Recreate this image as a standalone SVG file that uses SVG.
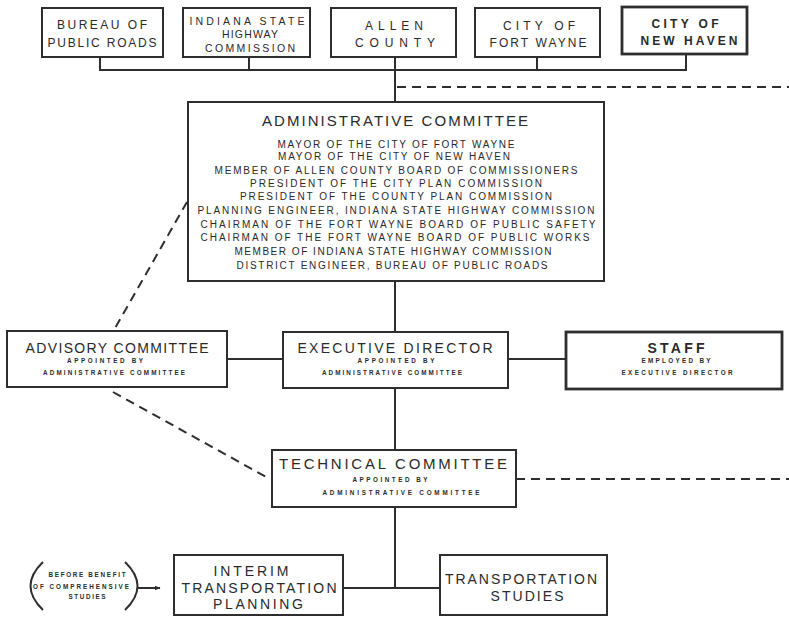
<svg xmlns="http://www.w3.org/2000/svg" width="789" height="619" viewBox="0 0 789 619">
<defs>
<style>
text{font-family:"Liberation Sans",Arial,sans-serif;fill:#2a2a2a;text-anchor:middle}
.box{fill:#fff;stroke:#2e2e2e;stroke-width:2}
.thick{stroke-width:2.8}
.ln{fill:none;stroke:#2e2e2e;stroke-width:2}
.dash{fill:none;stroke:#2e2e2e;stroke-width:2;stroke-dasharray:9 6}
.t12{font-size:12px}
.t11{font-size:10.5px}
.t15{font-size:15px}
.t14{font-size:14px}
.t10{font-size:10px}
.s6{font-size:6.3px;font-weight:bold}
.b{font-weight:bold}
</style>
<marker id="ah" viewBox="0 0 10 10" refX="9" refY="5" markerWidth="6" markerHeight="6" orient="auto" markerUnits="userSpaceOnUse">
<path d="M0,1 L10,5 L0,9 z" fill="#2e2e2e"/>
</marker>
</defs>
<rect width="789" height="619" fill="#fff"/>

<g id="connectors">
<path class="ln" d="M100,57 V70 H686 V54 M249,57 V70 M537,57 V70 M395,57 V102"/>
<path class="ln" d="M395,281 V332 M227,359 H283 M508,359 H566 M395,388 V450 M395,507 V588 M343,588 H440"/>
<path class="dash" d="M397,87 H789"/>
<path class="dash" d="M187,202 L114,330"/>
<path class="dash" d="M113,392 L268,478"/>
<path class="dash" d="M516,479 H789"/>
<path class="ln" d="M43,562 Q18,586 43,610 M125,562 Q150,586 125,610"/>
<path class="ln" d="M137,588 H160" marker-end="url(#ah)"/>
</g>

<g id="bureau">
<rect class="box" x="42" y="8" width="121" height="49"/>
<text class="t12" x="102" y="29" textLength="90" lengthAdjust="spacing">BUREAU OF</text>
<text class="t12" x="102" y="47" textLength="109" lengthAdjust="spacing">PUBLIC ROADS</text>
</g>
<g id="indiana">
<rect class="box" x="183" y="8" width="127" height="49"/>
<text class="t11" x="247" y="25" textLength="115" lengthAdjust="spacing">INDIANA STATE</text>
<text class="t11" x="250" y="37.5" textLength="56" lengthAdjust="spacing">HIGHWAY</text>
<text class="t11" x="250" y="51.5" textLength="90" lengthAdjust="spacing">COMMISSION</text>
</g>
<g id="allen">
<rect class="box" x="331" y="8" width="125" height="49"/>
<text class="t12" x="394" y="29.5" textLength="58" lengthAdjust="spacing">ALLEN</text>
<text class="t12" x="395" y="47" textLength="80" lengthAdjust="spacing">COUNTY</text>
</g>
<g id="fortwayne">
<rect class="box" x="475" y="8" width="125" height="49"/>
<text class="t12" x="539" y="30" textLength="72" lengthAdjust="spacing">CITY OF</text>
<text class="t12" x="538" y="46.5" textLength="97" lengthAdjust="spacing">FORT WAYNE</text>
</g>
<g id="newhaven">
<rect class="box thick" x="622" y="7" width="125" height="47"/>
<text class="t12 b" x="685" y="28" textLength="67" lengthAdjust="spacing">CITY OF</text>
<text class="t12 b" x="689" y="44.5" textLength="97" lengthAdjust="spacing">NEW HAVEN</text>
</g>

<g id="admin">
<rect class="box" x="188" y="102" width="416" height="179"/>
<text class="t15" x="395" y="125.5" textLength="266" lengthAdjust="spacing">ADMINISTRATIVE COMMITTEE</text>
<text class="t10" x="396" y="147.5" textLength="237" lengthAdjust="spacing">MAYOR OF THE CITY OF FORT WAYNE</text>
<text class="t10" x="394" y="160" textLength="232" lengthAdjust="spacing">MAYOR OF THE CITY OF NEW HAVEN</text>
<text class="t10" x="396" y="174" textLength="363" lengthAdjust="spacing">MEMBER OF ALLEN COUNTY BOARD OF COMMISSIONERS</text>
<text class="t10" x="396" y="187" textLength="292" lengthAdjust="spacing">PRESIDENT OF THE CITY PLAN COMMISSION</text>
<text class="t10" x="396" y="199.5" textLength="312" lengthAdjust="spacing">PRESIDENT OF THE COUNTY PLAN COMMISSION</text>
<text class="t10" x="396" y="214" textLength="397" lengthAdjust="spacing">PLANNING ENGINEER, INDIANA STATE HIGHWAY COMMISSION</text>
<text class="t10" x="398" y="227.5" textLength="395" lengthAdjust="spacing">CHAIRMAN OF THE FORT WAYNE BOARD OF PUBLIC SAFETY</text>
<text class="t10" x="395" y="240.5" textLength="389" lengthAdjust="spacing">CHAIRMAN OF THE FORT WAYNE BOARD OF PUBLIC WORKS</text>
<text class="t10" x="393" y="254.5" textLength="317" lengthAdjust="spacing">MEMBER OF INDIANA STATE HIGHWAY COMMISSION</text>
<text class="t10" x="392" y="268.5" textLength="311" lengthAdjust="spacing">DISTRICT ENGINEER, BUREAU OF PUBLIC ROADS</text>
</g>

<g id="advisory">
<rect class="box" x="7" y="331" width="220" height="56"/>
<text class="t14" x="117" y="353" textLength="183" lengthAdjust="spacing">ADVISORY COMMITTEE</text>
<text class="s6" x="105" y="362.7" textLength="76" lengthAdjust="spacing">APPOINTED BY</text>
<text class="s6" x="114" y="374.7" textLength="142" lengthAdjust="spacing">ADMINISTRATIVE COMMITTEE</text>
</g>

<g id="executive">
<rect class="box" x="283" y="332" width="225" height="56"/>
<text class="t14" x="395" y="353" textLength="195" lengthAdjust="spacing">EXECUTIVE DIRECTOR</text>
<text class="s6" x="396" y="362.7" textLength="77" lengthAdjust="spacing">APPOINTED BY</text>
<text class="s6" x="392" y="374.7" textLength="140" lengthAdjust="spacing">ADMINISTRATIVE COMMITTEE</text>
</g>

<g id="staff">
<rect class="box thick" x="566" y="332" width="216" height="57"/>
<text class="t14 b" x="676" y="353.3" textLength="57" lengthAdjust="spacing">STAFF</text>
<text class="s6" x="676" y="363.2" textLength="69" lengthAdjust="spacing">EMPLOYED BY</text>
<text class="s6" x="677" y="374.7" textLength="111" lengthAdjust="spacing">EXECUTIVE DIRECTOR</text>
</g>

<g id="technical">
<rect class="box" x="272" y="450" width="244" height="57"/>
<text class="t15" x="393" y="469" textLength="228" lengthAdjust="spacing">TECHNICAL COMMITTEE</text>
<text class="s6" x="390" y="482.2" textLength="75" lengthAdjust="spacing">APPOINTED BY</text>
<text class="s6" x="401" y="494.5" textLength="157" lengthAdjust="spacing">ADMINISTRATIVE COMMITTEE</text>
</g>

<g id="interim">
<rect class="box" x="174" y="555" width="169" height="60"/>
<text class="t14" x="251" y="575.8" textLength="75" lengthAdjust="spacing">INTERIM</text>
<text class="t14" x="259" y="593" textLength="155" lengthAdjust="spacing">TRANSPORTATION</text>
<text class="t14" x="258" y="608.8" textLength="90" lengthAdjust="spacing">PLANNING</text>
</g>

<g id="studies">
<rect class="box" x="440" y="555" width="167" height="60"/>
<text class="t14" x="521" y="584" textLength="152" lengthAdjust="spacing">TRANSPORTATION</text>
<text class="t14" x="527" y="601" textLength="73" lengthAdjust="spacing">STUDIES</text>
</g>

<g id="note">
<text class="s6" x="87" y="577.2" textLength="77" lengthAdjust="spacing">BEFORE BENEFIT</text>
<text class="s6" x="81" y="589.2" textLength="96" lengthAdjust="spacing">OF COMPREHENSIVE</text>
<text class="s6" x="87" y="599.2" textLength="37" lengthAdjust="spacing">STUDIES</text>
</g>
</svg>
